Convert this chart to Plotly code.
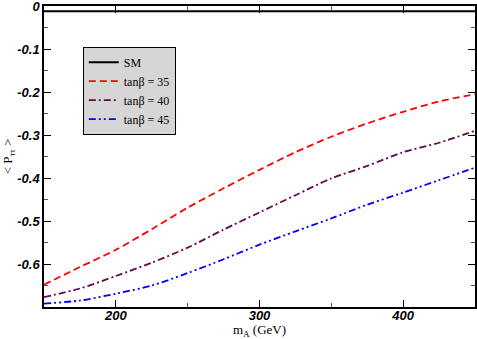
import plotly.graph_objects as go

# m_A values (GeV) and <P_tautau> curves
m_a = [150, 175, 200, 225, 250, 275, 300, 325, 350, 375, 400, 425, 450]
p_sm = [-0.012] * len(m_a)
p_tb35 = [-0.648, -0.607, -0.567, -0.519, -0.469, -0.424, -0.381,
          -0.340, -0.304, -0.273, -0.246, -0.222, -0.205]
p_tb40 = [-0.677, -0.657, -0.628, -0.597, -0.562, -0.520, -0.480,
          -0.440, -0.401, -0.372, -0.340, -0.318, -0.290]
p_tb45 = [-0.692, -0.685, -0.669, -0.650, -0.621, -0.589, -0.555,
          -0.524, -0.494, -0.462, -0.434, -0.405, -0.376]

x_ticks = [200, 300, 400]
x_tick_labels = ["200", "300", "400"]
y_ticks = [0, -0.1, -0.2, -0.3, -0.4, -0.5, -0.6]
y_tick_labels = ["0", "-0.1", "-0.2", "-0.3", "-0.4", "-0.5", "-0.6"]

serif = "Liberation Serif, Times New Roman, serif"
sans = "Liberation Sans, Arial, sans-serif"

fig = go.Figure()
series = [
    ("SM", p_sm, "#000000", "solid", 2),
    ("tanβ = 35", p_tb35, "#ff0000", "7px,4px", 1.8),
    ("tanβ = 40", p_tb40, "#670748", "7px,3px,2px,3px", 1.8),
    ("tanβ = 45", p_tb45, "#0000ff", "7px,3px,2px,3px,2px,3px", 1.8),
]
for name, ys, color, dash, width in series:
    fig.add_trace(go.Scatter(
        x=m_a, y=ys, mode="lines", name=name,
        line=dict(color=color, dash=dash, width=width, shape="spline", smoothing=0.8),
    ))

axis_common = dict(
    showline=True, linecolor="black", linewidth=1.5, mirror="ticks",
    ticks="inside", ticklen=7, tickwidth=1, tickcolor="black",
    showgrid=False, zeroline=False, automargin=False,
    ticklabeloverflow="allow",
    tickfont=dict(family=sans, size=13, color="black", weight="bold", style="italic"),
    minor=dict(ticks="inside", ticklen=4, tickwidth=1, tickcolor="#555555"),
)

fig.update_layout(
    width=477, height=339,
    margin=dict(l=44, r=2, t=6, b=32),
    paper_bgcolor="white", plot_bgcolor="white",
    xaxis=dict(
        range=[150, 450], tickvals=x_ticks, ticktext=x_tick_labels,
        ticklabelstandoff=-4,
        title=dict(text="m<sub>A</sub> (GeV)", font=dict(family=serif, size=13, color="black")),
        **axis_common,
    ),
    yaxis=dict(
        range=[-0.7, 0.0], tickvals=y_ticks, ticktext=y_tick_labels,
        title=dict(text="&lt; P<sub>ττ</sub> &gt;", font=dict(family=serif, size=13, color="black")),
        **axis_common,
    ),
    legend=dict(
        x=0.09, y=0.865, xanchor="left", yanchor="top",
        bgcolor="#d6d6d6", bordercolor="black", borderwidth=1,
        font=dict(family=serif, size=12, color="black"),
        itemwidth=30, tracegroupgap=0,
    ),
    showlegend=True,
)
fig.update_xaxes(minor=dict(tickvals=[250, 350]))
fig.update_yaxes(minor=dict(tickvals=[-0.05, -0.15, -0.25, -0.35, -0.45, -0.55, -0.65]))

# drop the browser's default 8px body margin so the figure sits at the page origin
fig.write_html(
    "out.html",
    config={"displayModeBar": False},
    post_script="document.body.style.margin = '0';",
)
